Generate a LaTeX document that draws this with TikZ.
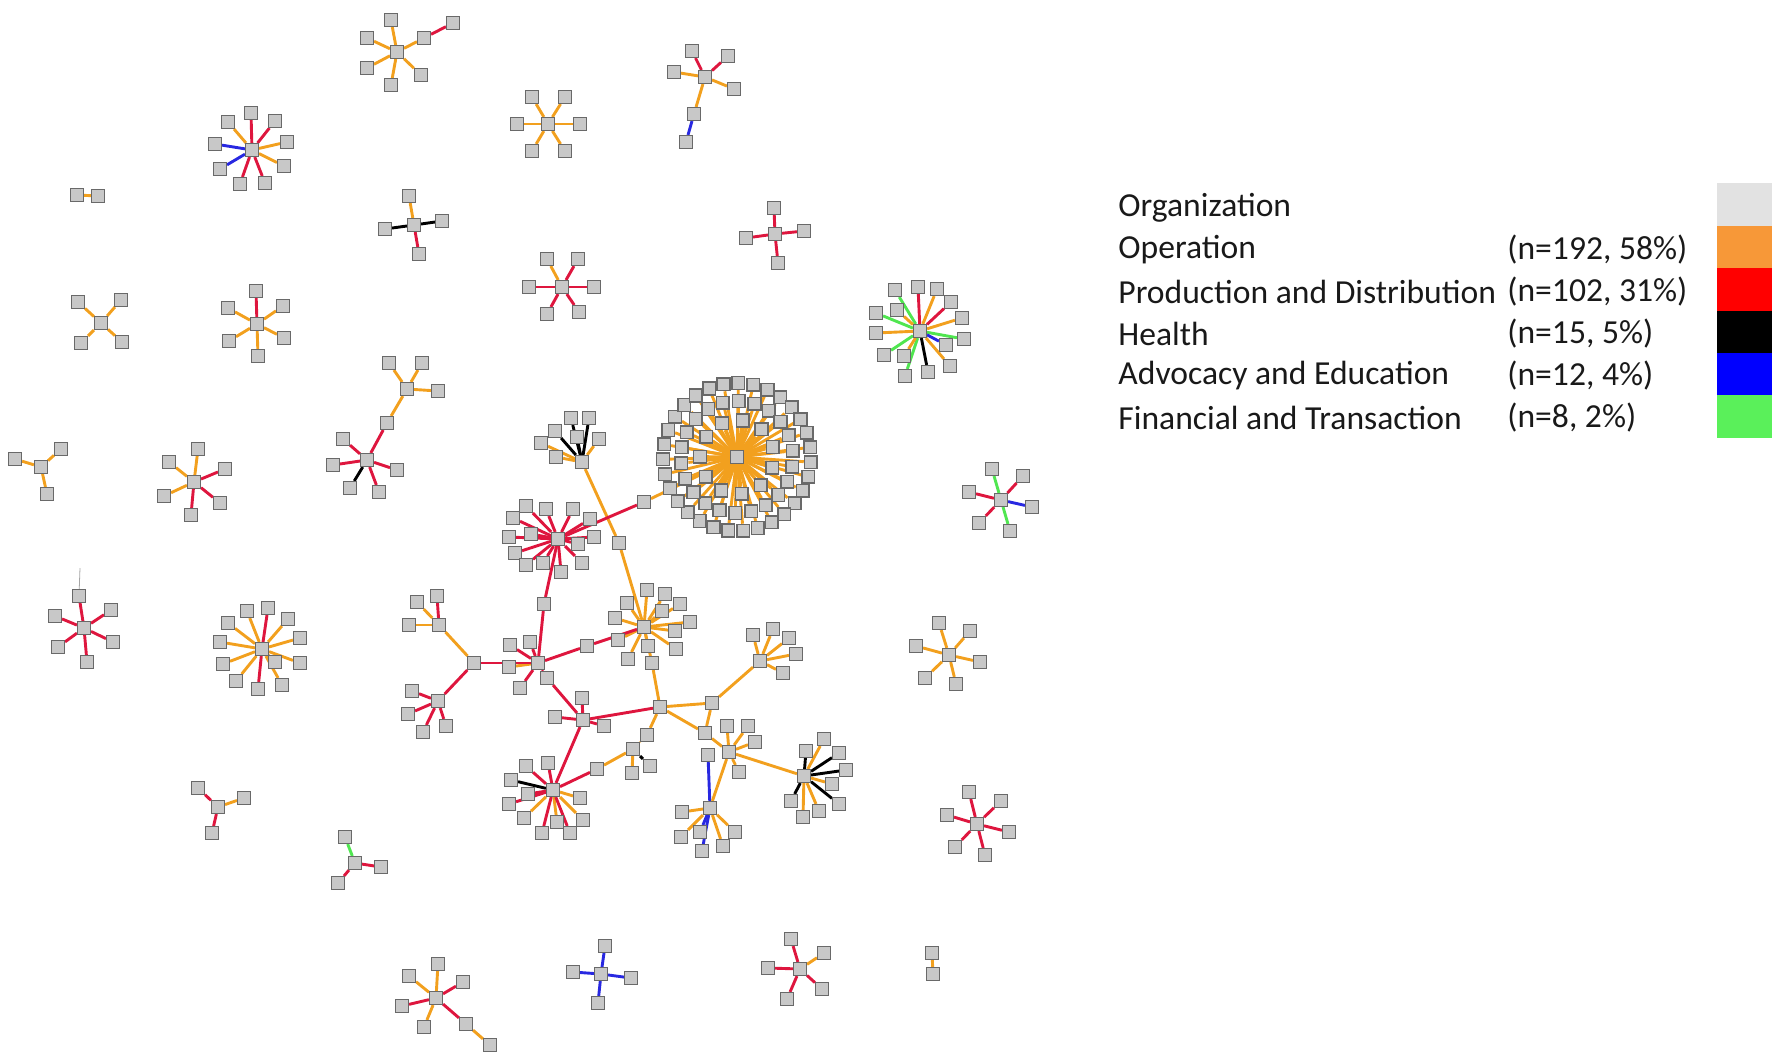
\documentclass[tikz,border=0pt]{standalone}
\usepackage{fontspec}
\usepackage{etoolbox}
\setmainfont{Carlito}
\pgfdeclarelayer{bg}
\pgfsetlayers{bg,main}
\definecolor{eo}{RGB}{242,160,30}
\definecolor{er}{RGB}{222,22,62}
\definecolor{ek}{RGB}{0,0,0}
\definecolor{eb}{RGB}{40,40,225}
\definecolor{eg}{RGB}{80,230,80}
\definecolor{ndfill}{RGB}{200,200,200}
\definecolor{nddraw}{RGB}{105,105,105}
\definecolor{lgray}{RGB}{226,226,226}
\definecolor{lorange}{RGB}{247,152,56}
\definecolor{lred}{RGB}{255,0,0}
\definecolor{lblue}{RGB}{0,0,255}
\definecolor{lgreen}{RGB}{90,240,90}
\tikzset{
 nd/.style={rectangle, fill=ndfill, draw=nddraw, line width=0.75pt, minimum size=6.3pt, inner sep=0pt},
 ed/.style={line width=1.45pt},
 thin/.style={gray!70, line width=0.4pt},
 lgtxt/.style={anchor=west, inner sep=0pt, font=\fontsize{16.8}{20}\selectfont, text=black!90},
 lgbar/.style={draw=none, anchor=north west, minimum width=27.5pt, minimum height=21.2pt, inner sep=0pt}
}
\def\alledges{}
\newcommand\lnk[3]{\gappto\alledges{\draw[ed,draw=#1] (#2) -- (#3);}}
\newcommand\mystar[3]{\node[nd] (#1) at (#2) {};
 \foreach \lx/\ly/\lc [count=\i] in {#3} {\node[nd] (#1-\i) at (\lx,\ly) {};
 \xappto\alledges{\noexpand\draw[ed,draw=\lc] (#1) -- (#1-\i);}}}
\begin{document}
\begin{tikzpicture}[x=0.5pt,y=-0.5pt]
\useasboundingbox (0,0) rectangle (1784,1062);
% ---------- isolated clusters ----------
\mystar{A}{397,52}{391/20/eo, 367/38/eo, 424/38/eo, 367/68/eo, 391/85/eo, 421/75/eo}
\node[nd] (A8) at (453,23) {}; \lnk{er}{A-3}{A8}
\mystar{B}{252,150}{251/113/er, 228/122/eo, 275/121/er, 287/142/eo, 284/166/eo, 265/183/er, 240/184/er, 220/169/eb, 215/144/eb}
\node[nd] (C1) at (77,195) {}; \node[nd] (C2) at (98,196) {}; \lnk{eo}{C1}{C2}
\mystar{D}{414,225}{409/196/eo, 385/229/ek, 442/221/ek, 419/254/er}
\mystar{E}{101,323}{78/302/eo, 121/300/eo, 81/343/eo, 122/342/eo}
\mystar{F}{257,324}{256/291/er, 228/308/eo, 283/306/eo, 229/341/eo, 284/338/eo, 258/356/eo}
\mystar{G}{548,124}{532/97/eo, 565/97/eo, 517/124/eo, 580/124/eo, 532/151/eo, 565/151/eo}
\mystar{H}{705,77}{692/51/er, 728/56/er, 674/72/eo, 734/89/eo, 694/114/eo}
\node[nd] (H6) at (686,142) {}; \lnk{eb}{H-5}{H6}
\mystar{I}{775,234}{774/208/er, 746/238/er, 804/231/er, 778/263/er}
\mystar{J}{562,287}{547/259/eo, 578/259/er, 529/287/er, 594/287/er, 547/314/er, 579/312/er}
\mystar{K}{920,331}{895/290/eg, 918/287/er, 937/289/eo, 951/302/er, 962/318/eo, 964/339/eg, 946/345/eb, 950/366/eo, 928/372/ek, 905/376/eg, 904/356/eo, 884/355/eg, 876/333/eo, 876/313/eg, 897/310/eo}
\mystar{L}{41,467}{15/459/eo, 61/449/eo, 47/494/eo}
\mystar{M}{194,482}{198/449/eo, 169/462/eo, 225/469/er, 164/496/eo, 220/503/er, 191/515/er}
\mystar{N}{367,460}{343/439/er, 333/465/er, 397/470/er, 350/488/ek, 379/492/er, 387/423/er}
\mystar{N2}{407,389}{389/363/eo, 422/363/eo, 438/391/eo}
\lnk{eo}{N-6}{N2}
\mystar{O}{84,628}{79/596/er, 55/616/er, 111/610/er, 58/647/er, 113/642/er, 87/662/er}
\coordinate (Otop) at (80,568);
\gappto\alledges{\draw[thin] (O-1) -- (Otop);}
\mystar{P}{262,649}{247/611/eo, 268/608/er, 288/619/eo, 228/623/eo, 300/638/eo, 220/642/eo, 300/663/eo, 275/662/eo, 223/664/eo, 282/685/eo, 236/681/eo, 258/689/er}
\mystar{R}{1001,500}{992/469/eg, 1023/476/er, 969/492/er, 1032/507/eb, 979/523/er, 1010/531/eg}
\mystar{CC}{949,655}{939/623/eo, 970/631/eo, 916/646/eo, 980/662/eo, 925/678/eo, 956/684/eo}
\mystar{DD}{436,998}{438/964/eo, 409/976/eo, 463/982/er, 402/1006/er, 424/1027/eo, 466/1024/er}
\node[nd] (DD7) at (490,1045) {}; \lnk{eo}{DD-6}{DD7}
\mystar{EE}{601,974}{605/946/eb, 573/972/eb, 631/978/eb, 598/1003/eb}
\mystar{FF}{800,969}{791/939/er, 824/953/eo, 768/968/er, 822/989/er, 787/999/er}
\mystar{GG}{218,807}{198/788/er, 244/798/eo, 212/833/er}
\mystar{HH}{355,863}{345/837/eg, 381/867/er, 338/883/er}
\mystar{II}{977,824}{969/792/er, 1001/801/er, 947/815/er, 1009/832/er, 955/847/er, 985/855/er}
\node[nd] (JJ1) at (932,953) {}; \node[nd] (JJ2) at (933,974) {}; \lnk{eo}{JJ1}{JJ2}
% ---------- main component ----------
\node[nd] (BH) at (737,457) {};
\foreach \k in {1,...,31} {\pgfmathsetmacro\a{\k*360/31+4}
 \node[nd] (BHo\k) at ({737+74*cos(\a)},{457+74*sin(\a)}) {};
 \xappto\alledges{\noexpand\draw[ed,draw=eo] (BH) -- (BHo\k);}}
\foreach \k in {1,...,22} {\pgfmathsetmacro\a{\k*360/22+10}
 \node[nd] (BHm\k) at ({737+56*cos(\a)},{457+56*sin(\a)}) {};
 \xappto\alledges{\noexpand\draw[ed,draw=eo] (BH) -- (BHm\k);}}
\foreach \k in {1,...,11} {\pgfmathsetmacro\a{\k*360/11+17}
 \node[nd] (BHi\k) at ({737+37*cos(\a)},{457+37*sin(\a)}) {};
 \xappto\alledges{\noexpand\draw[ed,draw=eo] (BH) -- (BHi\k);}}
\mystar{Q}{582,462}{571/418/ek, 589/418/ek, 555/431/ek, 577/437/ek, 599/439/eo, 541/443/eo, 556/457/eo}
\mystar{T}{558,539}{526/506/er, 546/509/er, 573/509/er, 590/519/er, 513/518/er, 531/534/er, 509/537/er, 594/537/er, 578/544/er, 515/553/er, 526/565/er, 543/563/er, 582/563/er, 561/572/er}
\mystar{S}{644,627}{647/590/eo, 665/594/eo, 627/603/eo, 680/604/eo, 662/611/eo, 615/618/eo, 690/622/eo, 675/631/eo, 618/640/eo, 648/646/eo, 676/649/eo, 628/659/eo}
\mystar{U}{538,663}{510/645/er, 530/642/er, 509/667/eo, 520/688/er}
\node[nd] (U3) at (474,663) {};
\mystar{U4}{439,625}{417/602/eo, 437/596/er, 409/625/eo}
\mystar{U5}{438,701}{412/691/er, 408/714/er, 423/732/er, 446/726/er}
\node[nd] (V) at (660,707) {};
\mystar{W}{583,720}{582/698/er, 555/717/er, 604/726/er}
\mystar{W2}{553,790}{526/766/er, 548/763/er, 511/780/ek, 528/794/er, 509/804/er, 580/798/eo, 524/818/eo, 557/822/eo, 583/820/eo, 542/833/er, 570/833/er}
\mystar{X}{760,661}{753/635/eo, 773/629/eo, 789/638/eo, 796/654/eo, 783/673/eo}
\mystar{Y}{729,752}{727/726/eo, 748/726/eo, 755/742/eo, 739/772/eo}
\mystar{Z}{710,808}{682/812/eo, 681/837/eo, 700/832/eb, 702/851/eb, 723/846/eo, 735/832/eo, 708/755/eb}
\mystar{AA}{804,776}{806/751/ek, 824/739/eo, 839/753/ek, 846/770/ek, 832/784/eo, 839/804/ek, 819/811/eo, 803/817/eo, 791/801/ek}
\mystar{BB}{633,749}{632/773/eo, 650/766/ek}
\node[nd] (q1) at (619,543) {};
\node[nd] (b1) at (644,502) {};
\node[nd] (t1) at (544,604) {};
\node[nd] (u1) at (547,678) {};
\node[nd] (n1) at (587,646) {};
\node[nd] (s1) at (652,663) {};
\node[nd] (x1) at (712,703) {};
\node[nd] (nb) at (705,733) {};
\node[nd] (bb1) at (647,735) {};
\node[nd] (bb2) at (597,769) {};
\lnk{eo}{Q}{q1} \lnk{eo}{q1}{S}
\lnk{eo}{BH}{b1} \lnk{er}{b1}{T}
\lnk{er}{T}{t1} \lnk{er}{t1}{U}
\lnk{er}{U}{u1} \lnk{er}{u1}{W}
\lnk{er}{U}{n1} \lnk{er}{n1}{S}
\lnk{er}{U}{U3} \lnk{eo}{U3}{U4} \lnk{er}{U3}{U5}
\lnk{eo}{S}{s1} \lnk{eo}{s1}{V}
\lnk{er}{V}{W} \lnk{er}{W}{W2}
\lnk{eo}{V}{x1} \lnk{eo}{x1}{X}
\lnk{eo}{V}{nb} \lnk{eo}{x1}{nb} \lnk{eo}{nb}{Y}
\lnk{eo}{Y}{Z} \lnk{eo}{Y}{AA}
\lnk{eo}{V}{bb1} \lnk{eo}{bb1}{BB}
\lnk{eo}{BB}{bb2} \lnk{er}{bb2}{W2}
% ---------- all connectors, behind the nodes ----------
\begin{pgfonlayer}{bg}
\alledges
\end{pgfonlayer}
% ---------- legend ----------
\node[lgtxt] (l0) at (1118,208) {Organization};
\node[lgtxt] (l1) at (1118,250) {Operation};
\node[lgtxt] (l2) at (1118,292) {Production and Distribution};
\node[lgtxt] (l3) at (1118,334) {Health};
\node[lgtxt] (l4) at (1118,376) {Advocacy and Education};
\node[lgtxt] (l5) at (1118,418) {Financial and Transaction};
\node[lgtxt] (n1t) at (1507,250) {(n=192, 58\%)};
\node[lgtxt] (n2t) at (1507,292) {(n=102, 31\%)};
\node[lgtxt] (n3t) at (1507,334) {(n=15, 5\%)};
\node[lgtxt] (n4t) at (1507,376) {(n=12, 4\%)};
\node[lgtxt] (n5t) at (1507,418) {(n=8, 2\%)};
\node[lgbar, fill=lgray] (bar0) at (1717,183) {};
\node[lgbar, fill=lorange] (bar1) at (1717,225.4) {};
\node[lgbar, fill=lred] (bar2) at (1717,267.8) {};
\node[lgbar, fill=black] (bar3) at (1717,310.2) {};
\node[lgbar, fill=lblue] (bar4) at (1717,352.6) {};
\node[lgbar, fill=lgreen] (bar5) at (1717,395) {};
\end{tikzpicture}
\end{document}
